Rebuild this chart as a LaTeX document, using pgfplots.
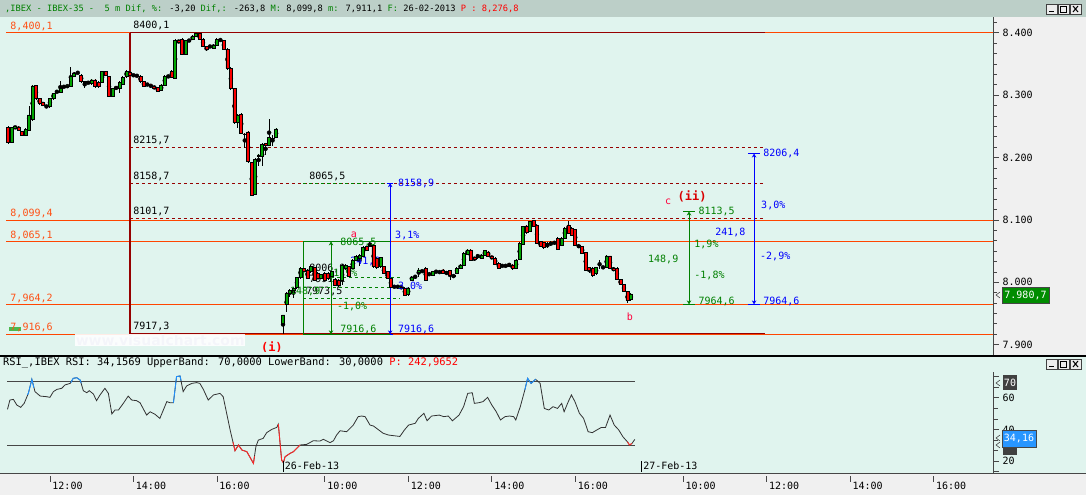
\documentclass[border=0pt]{standalone}
\usepackage{pgfplots}
\pgfplotsset{compat=1.18}
\usepackage{pgfplotstable}
\usepackage{fontspec}
\setmainfont{DejaVu Sans Mono}
\newfontfamily\wmfont{DejaVu Sans}
\usetikzlibrary{arrows.meta}

\definecolor{mint}{RGB}{224,244,238}
\definecolor{titlebar}{RGB}{188,207,200}
\definecolor{panelgray}{RGB}{240,240,240}
\definecolor{axgray}{RGB}{70,70,70}
\definecolor{orangeline}{RGB}{255,69,0}
\definecolor{orangetext}{RGB}{255,80,20}
\definecolor{fibred}{RGB}{150,0,0}
\definecolor{cgreen}{RGB}{0,165,0}
\definecolor{cred}{RGB}{250,0,0}
\definecolor{toolgreen}{RGB}{0,128,0}
\definecolor{toolblue}{RGB}{0,0,255}
\definecolor{rsigray}{RGB}{50,50,50}
\definecolor{rsiblue}{RGB}{30,144,255}
\definecolor{rsired}{RGB}{255,40,40}
\definecolor{txtgreen}{RGB}{0,128,0}
\definecolor{labred}{RGB}{255,0,60}
\definecolor{wmtext}{RGB}{150,160,210}
\definecolor{boxgreen}{RGB}{0,140,0}
\definecolor{boxblue}{RGB}{40,150,255}
\definecolor{boxdark}{RGB}{64,64,64}

\pgfplotstableread{
s o h l c
-79 8248.5 8250 8222 8223.9
-78 8224 8249 8223 8248.5
-77 8247 8251 8246 8249.5
-76 8249 8250 8243 8244
-75 8241.5 8243 8235 8236.2
-74 8236.2 8247 8235 8245.2
-73 8244 8282.6 8243 8268.2
-72 8261.3 8316 8258 8314.7
-71 8315.7 8316 8293 8294.9
-70 8294.9 8296 8285 8286.9
-69 8288 8289 8283 8284.2
-68 8282.6 8285 8279 8283
-67 8281.6 8296 8280 8294.9
-66 8294.9 8304 8293 8302.9
-65 8305 8308 8303 8305.6
-64 8304 8322.7 8303 8310.9
-63 8313 8315 8312 8313.6
-62 8314 8316 8313 8314.7
-61 8314.7 8344.6 8313 8330.7
-60 8330.7 8338 8329 8335
-59 8336 8338 8334 8336
-58 8332.3 8334 8320 8321.6
-57 8321.6 8323 8312 8320
-56 8320 8322 8318 8320.5
-55 8318.9 8326 8317 8324.3
-54 8324.3 8326 8312 8313.6
-53 8320.5 8322 8312 8313.6
-52 8320.5 8339 8319 8337.6
-51 8338.7 8339.5 8331 8332.3
-50 8329.6 8331 8297 8298.6
-49 8298.6 8312 8297 8310.9
-48 8311 8314 8309 8312
-47 8310.9 8322 8304 8320
-46 8317.9 8330 8316 8328.6
-45 8329.6 8340 8328 8337.6
-44 8336 8338 8331 8332.3
-43 8332.3 8334 8330 8332
-42 8332 8333 8329 8331
-41 8330.7 8332 8320 8321.6
-40 8321.6 8323 8313 8314.7
-39 8316 8319 8315 8317
-38 8316.3 8318 8312 8313.6
-37 8313.6 8315 8310 8310.9
-36 8312 8313 8305 8306.7
-35 8307.2 8318 8306 8316.3
-34 8316.3 8332 8315 8330.7
-33 8329.6 8332 8328 8330
-32 8338.7 8340 8327 8328.6
-31 8327 8390 8326 8388.4
-30 8387.3 8389 8383 8384.6
-29 8390 8391 8364 8365.4
-28 8365.4 8389 8364 8387.3
-27 8388.4 8390 8385 8386.1
-26 8389.4 8396 8388 8394.8
-25 8394.8 8400.1 8393 8399
-24 8399 8400 8388 8389.4
-23 8389.4 8391 8377 8378.7
-22 8377.7 8379 8371 8373.4
-21 8378 8380 8376 8377
-20 8375 8382 8374 8380.3
-19 8380.3 8391 8379 8389.4
-18 8388.4 8391 8386 8387.3
-17 8387.3 8389 8372 8373.4
-16 8373.4 8375 8340 8343
-15 8343 8345 8308 8310.9
-14 8310.9 8312 8253 8255.9
-13 8255.9 8270 8247 8268.2
-12 8269.3 8271 8237 8238.8
-11 8238 8240 8215 8237
-10 8241 8242 8191 8193.5
-9 8191.8 8193 8138.5 8140.1
-8 8141.7 8199 8140 8197.2
-7 8201.5 8206 8186 8204.1
-6 8201.5 8223 8186 8221.2
-5 8222.8 8224 8204 8220.2
-4 8220.2 8261.8 8218 8231.9
-3 8230.8 8236 8219 8231
-2 8232.4 8247 8231 8245.8
0 7934.2 7948.5 7916.6 7947.6
1 7964.7 7984 7952 7982.3
2 7982.3 7990 7977 7987.6
3 7987 7992 7975 7990.3
4 7991.4 8009 7990 8007.4
5 8007.4 8025 8006 8022.4
6 8022.4 8024 8015 8017
7 8019.7 8021 8005 8006.3
8 8017 8027 8015 8025
9 8023.4 8025 8002 8003.7
10 8014.4 8016 8005 8006.3
11 8006.3 8014 8005 8012.8
12 8014.4 8016 8002 8003.7
13 8014.4 8016 8004 8006.3
14 8009 8019 8007 8017
15 8005.3 8007 7994 7995.7
16 8003.7 8005 7993 7995.7
17 8003.7 8029 7995 8027.7
18 8022.4 8029 8020 8027.7
19 8025 8027 8008 8009
20 8022.4 8037 8021 8035.7
21 8035.7 8043 8034 8041.1
22 8038.4 8045 8027 8043.7
23 8041.1 8058 8040 8055.5
24 8057.1 8059 8050 8051.8
25 8057 8065.5 8056 8059.8
26 8059.8 8061 8023 8025
27 8038.4 8040 8022 8023.4
28 8025 8041 8023 8039.5
29 8025 8026 8013 8014.4
30 8017 8018 8005 8006.3
31 8006.3 8008 7990 7991.4
32 7993 7995 7991 7992.5
33 7993 7996 7990 7993.5
34 7992.5 7995 7989 7992
35 7990.3 7992 7978 7979.6
36 7980 7993 7978 7991
37 8003.7 8010 8002 8007.4
38 8008 8012 8006 8009
39 8015.5 8022.4 8009 8019.8
40 8018.7 8020 8016 8018
41 8022.4 8024 8002 8003.7
42 8014.4 8016 8010 8014
43 8011.7 8019 8010 8017.1
44 8017.1 8019 8015 8017.5
45 8017.1 8019 8014 8015.5
46 8019.8 8021 8013 8014.4
47 8017.1 8018 8012 8015.5
48 8018.7 8020 8003.7 8011.7
49 8011.7 8013 8007 8009.1
50 8014.4 8024 8013 8022.4
51 8022.4 8029 8021 8027.8
52 8027.8 8048 8026 8046.5
53 8045.4 8053 8044 8051.8
54 8051.8 8053 8034 8035.8
55 8040 8041 8035 8036.8
56 8041.1 8046 8038 8040.5
57 8038.4 8045 8037 8043.8
58 8043.8 8052 8042 8050.7
59 8048.6 8050 8041 8042.2
60 8042.2 8043 8037 8038.4
61 8038.4 8040 8028 8029.4
62 8030.4 8032 8021 8022.4
63 8026.7 8028 8025 8026.5
64 8026.7 8028 8025 8026.7
65 8026.7 8031 8025 8026.4
66 8027.8 8029 8020 8022.4
67 8022.4 8037 8021 8035.8
68 8037 8064 8035 8062.5
69 8061.4 8091 8060 8089.2
70 8090.3 8092 8078 8079.6
71 8081.2 8099 8080 8097.2
72 8098.8 8100.5 8089 8090.3
73 8091.9 8093 8061 8062.5
74 8065.2 8066 8056 8057.1
75 8063.5 8065 8054 8055.5
76 8062.5 8064 8055 8062
77 8063.5 8066 8058 8063.3
78 8064.6 8067 8060 8064
79 8070.5 8072 8052 8052.9
80 8059.8 8072 8058 8070.5
81 8070.5 8089.2 8069 8086.5
82 8091.9 8099 8077 8078.5
83 8086.5 8088 8074 8075.8
84 8084.9 8086 8058 8059.8
85 8059.8 8061 8055 8057.1
86 8057.1 8058 8045 8046.5
87 8047.5 8049 8018 8019.7
88 8024 8025 8015 8019.7
89 8022.4 8024 8008 8011.7
90 8014.4 8025 8012 8024
91 8024 8035.8 8022 8024
92 8024 8026 8022 8024.3
93 8024 8043 8023 8042.2
94 8042.2 8043 8021 8022.4
95 8022.4 8024 8018 8019.7
96 8022.4 8024 8003 8004.8
97 8004.8 8006 7995 7996.8
98 7996.8 7998 7984 7985
99 7985 7987 7966.3 7970.6
100 7972.7 7983 7970 7981.3
}\candles

\pgfplotstableread{
s r
-79.2 52.7
-78.5 58.6
-77.5 59.0
-76.5 55.4
-75.4 54.0
-74.4 56.5
-73.2 62.8
-72.2 71.7
-71.3 63.9
-69.8 61.1
-67.9 60.7
-67.0 60.3
-66.0 63.9
-65.0 65.3
-63.6 66.0
-62.7 68.1
-61.2 69.1
-60.3 72.3
-59.3 72.7
-58.3 71.2
-57.4 64.5
-56.4 63.2
-55.7 64.5
-54.5 62.4
-53.6 58.2
-52.6 61.8
-51.2 66.0
-50.2 62.8
-49.2 49.8
-48.3 52.3
-47.3 52.3
-45.9 56.5
-44.5 61.1
-43.5 58.6
-42.1 58.2
-41.1 56.9
-39.2 49.1
-38.2 51.2
-36.8 49.6
-35.4 47.0
-34.4 52.3
-33.4 57.6
-32.5 56.9
-31.5 56.9
-30.6 73.4
-29.6 73.8
-28.7 63.9
-27.7 67.5
-26.2 69.1
-24.8 69.6
-23.9 69.1
-22.9 65.3
-21.5 58.6
-20.0 61.8
-18.1 62.8
-17.2 60.7
-15.2 39.7
-13.8 26.6
-12.8 30.2
-11.8 27.0
-10.4 26.0
-8.5 18.6
-7.8 29.1
-7.1 33.3
-5.7 34.4
-4.7 38.0
-3.2 40.1
-1.8 41.3
-1.35 43.4
-0.4 20.7
0.1 19.0
0.6 22.8
2.0 24.9
3.0 26.0
4.9 30.2
6.8 30.6
8.7 32.9
10.6 32.7
11.6 33.8
13.5 31.7
14.5 32.9
15.4 36.5
16.4 39.2
18.3 38.6
20.2 42.8
21.6 48.1
22.6 48.5
23.6 48.1
25.0 42.8
26.0 42.2
26.9 40.7
28.8 37.6
30.3 36.5
33.6 35.6
34.9 39.7
36.1 42.8
38.0 43.9
38.9 47.0
40.5 50.2
41.4 45.5
42.7 48.5
44.9 49.1
46.2 48.1
47.5 48.5
48.7 45.5
50.6 49.1
51.9 54.4
53.1 62.8
54.4 63.2
55.0 56.5
56.3 56.9
57.5 57.6
58.8 60.3
60.0 55.5
61.3 51.2
62.5 46.0
63.8 48.1
65.1 48.5
66.3 48.1
66.9 46.0
68.2 54.4
69.5 64.9
70.3 72.3
71.3 69.1
72.6 71.7
73.9 69.1
75.1 53.3
76.4 52.3
77.6 54.4
78.9 53.3
80.1 56.5
80.8 51.2
82.0 57.6
82.9 61.8
83.9 57.6
85.2 50.2
86.4 47.0
87.7 38.6
88.9 38.0
90.2 39.7
91.5 41.3
92.7 41.3
94.0 49.1
95.2 42.8
96.5 39.7
97.7 35.4
99.0 32.2
99.6 30.2
100.3 31.2
101.1 33.7
}\rsi

\tikzset{
  lab/.style={font=\fontsize{10bp}{12bp}\selectfont, inner sep=0pt},
  arr/.style={arrows={Stealth[length=4bp,width=4.5bp]-Stealth[length=4bp,width=4.5bp]}},
}

\begin{document}
\begin{tikzpicture}[x=1bp,y=1bp]
\path[use as bounding box] (0,0) rectangle (1086,495);
% backgrounds
\fill[mint] (0,0) rectangle (1086,495);
\fill[titlebar] (0,478) rectangle (1086,495);
\fill[panelgray] (993,140) rectangle (1086,478);
\fill[panelgray] (0,0) rectangle (1086,21);

% ================= MAIN PRICE AXIS (levels, wicks, ticks) =================
\begin{axis}[
  at={(0bp,143bp)}, anchor=south west,
  width=993bp, height=334bp, scale only axis,
  xmin=-81.35, xmax=204.08, ymin=7888.3, ymax=8423.7,
  axis x line=none, axis y line*=right,
  axis line style={draw=none},
  scaled y ticks=false,
  ytick={7900,8000,8100,8200,8300,8400},
  minor y tick num=5,
  extra y ticks={8416.67}, extra y tick labels={},
  extra y tick style={major tick length=3.5bp},
  tick align=outside,
  major tick length=6bp, minor tick length=3.5bp,
  every tick/.style={axgray, line width=0.8bp},
  yticklabel style={/pgf/number format/1000 sep={.}, /pgf/number format/assume math mode=true,
     font=\fontsize{10bp}{12bp}\selectfont, text=black},
]
% orange level lines
\draw[orangeline, line width=1.2bp] (axis cs:-79.6,8400.1) -- (axis cs:204.08,8400.1);
\draw[orangeline, line width=1.2bp] (axis cs:-79.6,8099.4) -- (axis cs:204.08,8099.4);
\draw[orangeline, line width=1.2bp] (axis cs:-79.6,8065.1) -- (axis cs:204.08,8065.1);
\draw[orangeline, line width=1.2bp] (axis cs:-79.6,7964.2) -- (axis cs:204.08,7964.2);
\draw[orangeline, line width=1.2bp] (axis cs:-79.6,7916.6) -- (axis cs:204.08,7916.6);
% fibonacci tool
\draw[fibred, line width=1.2bp] (axis cs:-44,7917.3) -- (axis cs:-44,8400.1);
\draw[fibred, line width=1.2bp] (axis cs:-44,8400.1) -- (axis cs:138.5,8400.1);
\draw[fibred, line width=1.2bp] (axis cs:-44,7917.3) -- (axis cs:138.5,7917.3);
\draw[fibred, line width=1bp, dash pattern=on 3bp off 3bp] (axis cs:-44,8215.7) -- (axis cs:138.5,8215.7);
\draw[fibred, line width=1bp, dash pattern=on 3bp off 3bp] (axis cs:-44,8158.7) -- (axis cs:138.5,8158.7);
\draw[fibred, line width=1bp, dash pattern=on 3bp off 3bp] (axis cs:-44,8101.7) -- (axis cs:138.5,8101.7);
\draw[toolgreen, line width=1bp, dash pattern=on 3bp off 3bp] (axis cs:5.75,8158.7) -- (axis cs:29.9,8158.7);

% candle wicks (high-low)
\addplot[forget plot, only marks, mark=none,
  error bars/.cd, y dir=both, y explicit, error mark=none,
  error bar style={draw=black, line width=1bp, line cap=butt}]
  table[x=s, y expr=(\thisrow{h}+\thisrow{l})/2, y error expr=(\thisrow{h}-\thisrow{l})/2] {\candles};
\end{axis}

% ================= CANDLE BODIES + ANNOTATIONS =================
\begin{axis}[
  at={(0bp,143bp)}, anchor=south west,
  width=993bp, height=334bp, scale only axis,
  xmin=-81.35, xmax=204.08, ymin=7888.3, ymax=8423.7,
  hide axis,
  ybar stacked, bar width=3bp,
]
\addplot[forget plot, draw=none, fill=none] table[x=s, y expr={min(\thisrow{o},\thisrow{c})}] {\candles};
\addplot[forget plot, fill=cgreen, draw=black, line width=0.6bp] table[x=s, y expr={max(\thisrow{c}-\thisrow{o},0)}] {\candles};
\addplot[forget plot, fill=cred, draw=black, line width=0.6bp] table[x=s, y expr={max(\thisrow{o}-\thisrow{c},0)}] {\candles};

% orange labels
\node[lab, anchor=base west, text=orangetext, yshift=3.5bp] at (axis cs:-78.4,8400.1) {8,400,1};
\node[lab, anchor=base west, text=orangetext, yshift=3.5bp] at (axis cs:-78.4,8099.4) {8,099,4};
\node[lab, anchor=base west, text=orangetext, yshift=3.5bp] at (axis cs:-78.4,8065.1) {8,065,1};
\node[lab, anchor=base west, text=orangetext, yshift=3.5bp] at (axis cs:-78.4,7964.2) {7,964,2};
\node[lab, anchor=base west, text=orangetext, yshift=3.5bp] at (axis cs:-78.4,7916.6) {7,916,6};
% fib labels
\node[lab, anchor=base west, yshift=4bp] at (axis cs:-43.1,8400.1) {8400,1};
\node[lab, anchor=base west, yshift=4bp] at (axis cs:-43.1,8215.7) {8215,7};
\node[lab, anchor=base west, yshift=4bp] at (axis cs:-43.1,8158.7) {8158,7};
\node[lab, anchor=base west, yshift=4bp] at (axis cs:-43.1,8101.7) {8101,7};
\node[lab, anchor=base west, yshift=4bp] at (axis cs:-43.1,7917.3) {7917,3};
\node[lab, anchor=base west, yshift=4bp] at (axis cs:7.5,8158.7) {8065,5};

% left green tool
\draw[toolgreen, line width=1bp] (axis cs:5.75,7916.6) -- (axis cs:5.75,8065.5);
\draw[toolgreen, line width=1bp] (axis cs:5.75,8065.5) -- (axis cs:30.8,8065.5);
\draw[toolgreen, line width=1bp] (axis cs:5.75,7916.6) -- (axis cs:30.8,7916.6);
\draw[toolgreen, line width=1bp, arr] (axis cs:13.8,7916.6) -- (axis cs:13.8,8065.5);
\draw[toolgreen, line width=1bp] (axis cs:12.9,8065.5) -- (axis cs:14.7,8065.5);
\draw[toolgreen, line width=1bp, dash pattern=on 3bp off 3bp] (axis cs:13.8,8008.4) -- (axis cs:33.6,8008.4);
\draw[toolgreen, line width=1bp, dash pattern=on 3bp off 3bp] (axis cs:5.75,7991.3) -- (axis cs:33.6,7991.3);
\draw[toolgreen, line width=1bp, dash pattern=on 3bp off 3bp] (axis cs:5.75,7974.8) -- (axis cs:33.6,7974.8);
\node[lab, anchor=west, text=toolgreen] at (axis cs:16.4,8063.5) {8065,5};
\node[lab, anchor=base west, text=toolgreen, yshift=2bp] at (axis cs:16.4,7916.6) {7916,6};
\node[lab, anchor=west, text=toolgreen] at (axis cs:14.4,8014.9) {1,9\%};
\node[lab, anchor=west, text=toolgreen] at (axis cs:15.5,7961.8) {-1,0\%};
\node[lab, anchor=west, text=toolgreen] at (axis cs:2.0,7986) {148,9};
\node[lab, anchor=west] at (axis cs:7.5,8022) {8006,9};
\node[lab, anchor=west] at (axis cs:7.5,8005) {7991,1};
\node[lab, anchor=west] at (axis cs:6.6,7986) {7973,5};

% left blue tool
\draw[toolblue, line width=1bp, arr] (axis cs:30.8,7916.6) -- (axis cs:30.8,8158.9);
\draw[toolblue, line width=1bp] (axis cs:29.9,8158.9) -- (axis cs:31.7,8158.9);
\draw[toolblue, line width=1bp] (axis cs:29.9,7916.6) -- (axis cs:31.7,7916.6);
\node[lab, anchor=west, text=toolblue] at (axis cs:33,8158.9) {8158,9};
\node[lab, anchor=base west, text=toolblue, yshift=2bp] at (axis cs:33,7916.6) {7916,6};
\node[lab, anchor=west, text=toolblue] at (axis cs:32.2,8075.5) {3,1\%};
\node[lab, anchor=west, text=toolblue] at (axis cs:19.3,8033) {241,8};
\node[lab, anchor=west, text=toolblue] at (axis cs:31.3,7993) {-3,0\%};

% right green tool
\draw[toolgreen, line width=1bp, arr] (axis cs:116.7,7964.6) -- (axis cs:116.7,8113.5);
\draw[toolgreen, line width=1bp] (axis cs:115,8113.5) -- (axis cs:118.5,8113.5);
\draw[toolgreen, line width=1bp] (axis cs:115,7964.6) -- (axis cs:118.5,7964.6);
\node[lab, anchor=west, text=toolgreen] at (axis cs:119.4,8113.5) {8113,5};
\node[lab, anchor=west, text=toolgreen] at (axis cs:119.4,7969.5) {7964,6};
\node[lab, anchor=west, text=toolgreen] at (axis cs:118.2,8061.4) {1,9\%};
\node[lab, anchor=west, text=toolgreen] at (axis cs:118.2,8011.7) {-1,8\%};
\node[lab, anchor=west, text=toolgreen] at (axis cs:104.9,8036) {148,9};

% right blue tool
\draw[toolblue, line width=1bp, arr] (axis cs:135.4,7964.6) -- (axis cs:135.4,8206.4);
\draw[toolblue, line width=1bp] (axis cs:133.7,8206.4) -- (axis cs:137.1,8206.4);
\draw[toolblue, line width=1bp] (axis cs:133.7,7964.6) -- (axis cs:137.1,7964.6);
\node[lab, anchor=west, text=toolblue] at (axis cs:138,8206.4) {8206,4};
\node[lab, anchor=west, text=toolblue] at (axis cs:138,7969.5) {7964,6};
\node[lab, anchor=west, text=toolblue] at (axis cs:137.4,8123.6) {3,0\%};
\node[lab, anchor=west, text=toolblue] at (axis cs:137.1,8042) {-2,9\%};
\node[lab, anchor=west, text=toolblue] at (axis cs:124.2,8080.3) {241,8};

% wave labels
\node[lab, text=labred] at (axis cs:20.4,8077) {a};
\node[lab, text=labred] at (axis cs:99.7,7944) {b};
\node[lab, text=labred] at (axis cs:110.7,8128.5) {c};
\node[font=\fontsize{12bp}{14bp}\selectfont\bfseries, inner sep=0pt, text=red!85!black] at (axis cs:117.6,8138) {(ii)};
\node[font=\fontsize{12bp}{14bp}\selectfont\bfseries, inner sep=0pt, text=red] at (axis cs:-3.2,7896) {(i)};

% watermark
\fill[white, opacity=0.9] (axis cs:-59.8,7897.8) rectangle (axis cs:-10.9,7917.0);
\node[font=\wmfont\fontsize{14bp}{16bp}\selectfont\bfseries, text=wmtext, inner sep=0pt] at (axis cs:-35.3,7907.5) {www.visualchart.com};
\fill[green!60!black!70] (axis cs:-78.8,7921.4) rectangle (axis cs:-75.2,7928.5);
\end{axis}

% ================= RSI AXIS =================
\begin{axis}[
  at={(0bp,21bp)}, anchor=south west,
  width=993bp, height=118bp, scale only axis,
  xmin=-81.35, xmax=204.08, ymin=11.9, ymax=86.4,
  axis x line*=bottom, axis y line*=right,
  axis line style={draw=none},
  xtick={-67,-43,-19,12,36,60,84,115,139,163,187},
  xticklabels={12:00,14:00,16:00,10:00,12:00,14:00,16:00,10:00,12:00,14:00,16:00},
  ytick={20,40,60}, minor y tick num=2,
  extra y ticks={13.33,66.67,73.33}, extra y tick labels={},
  tick align=outside,
  major tick length=6bp, minor tick length=5bp,
  every tick/.style={axgray, line width=0.8bp},
  x tick style={yshift=-2bp},
  xticklabel style={font=\fontsize{10bp}{12bp}\selectfont, anchor=west, xshift=-1bp, yshift=-6bp},
  yticklabel style={/pgf/number format/assume math mode=true, font=\fontsize{10bp}{12bp}\selectfont},
]
\draw[axgray, line width=1bp] (axis cs:-79.3,70) -- (axis cs:101.2,70);
\draw[axgray, line width=1bp] (axis cs:-79.3,30) -- (axis cs:101.2,30);
\addplot[rsigray, line width=0.8bp, mark=none] table[x=s, y=r] {\rsi};
\addplot[rsiblue, line width=0.9bp, mark=none] coordinates {(-73.5,62) (-73.2,62.8) (-72.2,71.7) (-71.6,66.3)};
\addplot[rsiblue, line width=0.9bp, mark=none] coordinates {(-61.0,69.6) (-60.3,72.3) (-59.3,72.7) (-58.3,71.2) (-58.0,69.2)};
\addplot[rsiblue, line width=0.9bp, mark=none] coordinates {(-31.5,56.9) (-30.6,73.4) (-29.6,73.8) (-29.3,70.8)};
\addplot[rsiblue, line width=0.9bp, mark=none] coordinates {(69.5,64.9) (70.3,72.3) (71.3,69.1) (72.6,71.7)};
\addplot[rsired, line width=0.9bp, mark=none] coordinates {(-14.4,32.1) (-13.8,26.6) (-12.8,30.2) (-11.8,27.0) (-10.4,26.0) (-8.5,18.6) (-8.2,23.1)};
\addplot[rsired, line width=0.9bp, mark=none] coordinates {(-1.35,43.4) (-0.4,20.7) (0.1,19.0) (0.6,22.8) (2.0,24.9) (3.0,26.0) (4.9,30.2)};
\addplot[rsired, line width=0.9bp, mark=none] coordinates {(99.0,32.2) (99.6,30.2) (100.3,31.2)};
% date markers
\draw[black, line width=0.8bp] (axis cs:0,13.3) -- (axis cs:0,20.1);
\node[lab, anchor=west] at (axis cs:0.5,16.9) {26-Feb-13};
\draw[black, line width=0.8bp] (axis cs:103,13.3) -- (axis cs:103,20.1);
\node[lab, anchor=west] at (axis cs:103.5,16.9) {27-Feb-13};
\end{axis}

% ================= frames & decorations =================
\fill[black] (0,138) rectangle (1086,140);
\draw[axgray, line width=1bp] (0,21) -- (1086,21);
\draw[axgray, line width=1bp] (993,140) -- (993,478);
\draw[axgray, line width=1bp] (993,21) -- (993,123);

% title bar text
\node[anchor=west, inner sep=0pt, font=\fontsize{8.7bp}{10bp}\selectfont] at (5,486.5)
 {\textcolor{txtgreen}{,IBEX - IBEX-35 -\ \ 5 m Dif, \%:} -3,20 \textcolor{txtgreen}{Dif,:} -263,8 \textcolor{txtgreen}{M:} 8,099,8 \textcolor{txtgreen}{m:} 7,911,1 \textcolor{txtgreen}{F:} 26-02-2013 \textcolor{red}{P : 8,276,8}};
% RSI header
\node[anchor=west, inner sep=0pt, font=\fontsize{10.4bp}{12bp}\selectfont] at (3,132)
 {RSI\_,IBEX RSI: 34,1569 UpperBand: 70,0000 LowerBand: 30,0000 \textcolor{red}{P: 242,9652}};

% window buttons
\foreach \yy in {481,126}{
  \foreach \bx in {1046,1058,1070}{
    \fill[gray!15] (\bx,\yy) rectangle ++(11,10);
    \draw[gray!50!black, line width=0.6bp] (\bx,\yy) rectangle ++(11,10);
  }
  \draw[black, line width=1.2bp] (1049,\yy+2.5) -- (1054,\yy+2.5);
  \draw[black, line width=0.9bp] (1060.5,\yy+2) rectangle (1066.5,\yy+8);
  \draw[black, line width=1bp] (1073,\yy+2) -- (1078,\yy+8) (1073,\yy+8) -- (1078,\yy+2);
}

% current price box
\draw[axgray, line width=0.6bp] (1000,203) -- (996,200) -- (1000,197);
\fill[boxgreen] (1002,192) rectangle (1049,208);
\draw[axgray, line width=0.6bp] (1002,192) rectangle (1049,208);
\node[lab, text=white] at (1025.5,200) {7.980,7};

% RSI boxes
\draw[axgray, line width=0.6bp] (1000,115) -- (996,112) -- (1000,109);
\fill[boxdark] (1003,105) rectangle (1017,120);
\node[lab, text=white] at (1010,112.5) {70};
\fill[boxdark] (1003,40) rectangle (1017,54);
\draw[axgray, line width=0.6bp] (1000,53) -- (996,50) -- (1000,47);
\fill[boxblue] (1002,48) rectangle (1036,65);
\draw[axgray, line width=0.6bp] (1002,48) rectangle (1036,65);
\draw[axgray, line width=0.6bp] (1000,60) -- (996,57) -- (1000,54);
\node[lab, text=white] at (1019,56.5) {34,16};
\end{tikzpicture}
\end{document}
